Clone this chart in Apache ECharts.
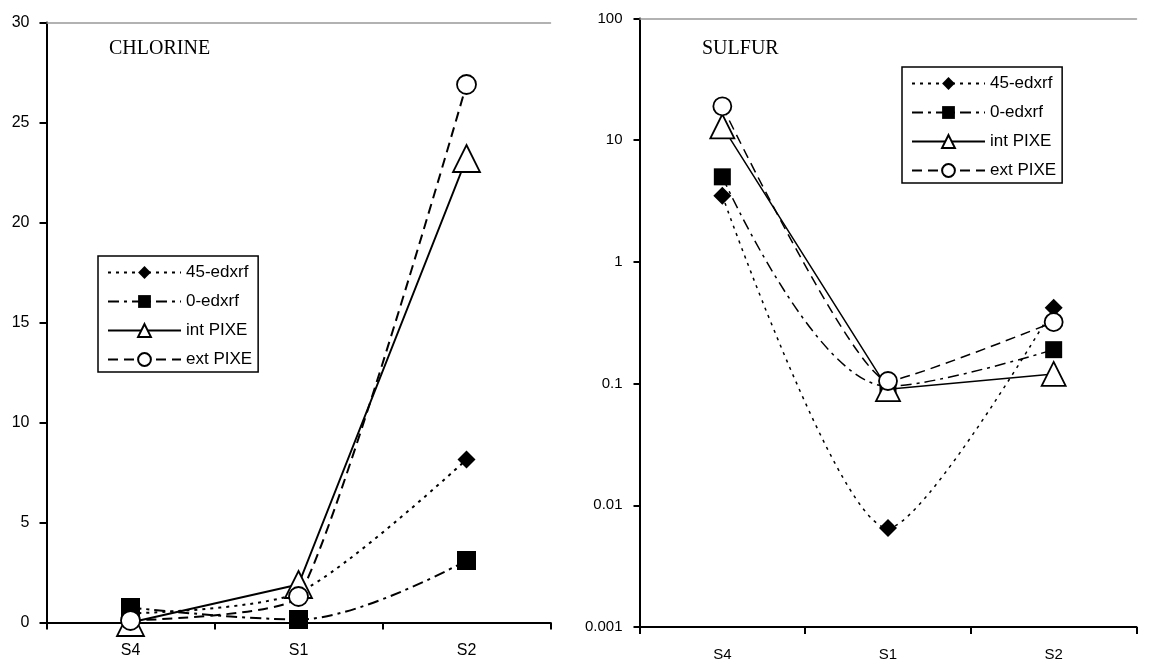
<!DOCTYPE html>
<html>
<head>
<meta charset="utf-8">
<script src="https://cdn.jsdelivr.net/npm/echarts@6/dist/echarts.min.js"></script>
<style>
html,body{margin:0;padding:0;background:#fff;}
#chart{width:1150px;height:662px;}
</style>
</head>
<body>
<div id="chart"></div>
<script>
// ---- data ----
const categories = ['S4', 'S1', 'S2'];
const seriesNames = ['45-edxrf', '0-edxrf', 'int PIXE', 'ext PIXE'];
// CHLORINE (linear)
const clEdxrf45 = [0.45, 1.5, 8.15];
const clEdxrf0 = [0.75, 0.15, 3.1];
const clIntPixe = [0.0, 1.9, 23.2];
const clExtPixe = [0.1, 1.3, 26.9];
// SULFUR (log)
const sEdxrf45 = [3.5, 0.0065, 0.42];
const sEdxrf0 = [5.0, 0.095, 0.19];
const sIntPixe = [13, 0.09, 0.12];
const sExtPixe = [19, 0.105, 0.32];
const chlorineTicks = ['0', '5', '10', '15', '20', '25', '30'];
const sulfurTicks = ['0.001', '0.01', '0.1', '1', '10', '100'];

const FONT = 'Liberation Sans, Arial, sans-serif';
const chart = echarts.init(document.getElementById('chart'));

const styles = [
  {symbol: 'diamond', fill: '#000', dash: [3, 5], smooth: 0.25},
  {symbol: 'rect', fill: '#000', dash: [11, 5, 3, 5], smooth: 0.35},
  {symbol: 'triangle', fill: '#fff', dash: 'solid', smooth: false},
  {symbol: 'circle', fill: '#fff', dash: [10, 6], smooth: 0.15}
];
const leftSizes = [18, 19, 27, 19];
const rightSizes = [18, 17, 24, 18];

function mkSeries(name, data, idx, gridIdx, size, lw) {
  const s = styles[idx];
  return {
    name: name,
    type: 'line',
    xAxisIndex: gridIdx === 0 ? 0 : 2,
    yAxisIndex: gridIdx,
    data: data,
    smooth: s.smooth,
    clip: false,
    symbol: s.symbol,
    symbolSize: size,
    showAllSymbol: true,
    lineStyle: {color: '#000', width: lw, type: s.dash},
    itemStyle: {color: s.fill, borderColor: '#000', borderWidth: s.fill === '#fff' ? 1.8 : 0, opacity: 1},
    emphasis: {disabled: true},
    animation: false
  };
}

const leftData = [clEdxrf45, clEdxrf0, clIntPixe, clExtPixe];
const rightData = [sEdxrf45, sEdxrf0, sIntPixe, sExtPixe];
const series = [];
seriesNames.forEach((n, i) => series.push(mkSeries(n, leftData[i], i, 0, leftSizes[i], 2)));
seriesNames.forEach((n, i) => series.push(mkSeries(n, rightData[i], i, 1, rightSizes[i], 1.5)));

function bottomAxis(gridIndex) {
  return {
    type: 'category', gridIndex: gridIndex, data: categories, position: 'bottom',
    boundaryGap: true,
    axisLine: {show: true, onZero: false, lineStyle: {color: '#000', width: 2}},
    axisTick: {show: true, inside: false, length: 7, lineStyle: {color: '#000', width: 2}},
    axisLabel: {color: '#000', fontFamily: FONT, fontSize: gridIndex === 0 ? 16 : 15, margin: 20},
    splitLine: {show: false}
  };
}
function topAxis(gridIndex) {
  return {
    type: 'category', gridIndex: gridIndex, data: categories, position: 'top',
    axisLine: {show: true, onZero: false, lineStyle: {color: '#999', width: 1.5}},
    axisTick: {show: false}, axisLabel: {show: false}, splitLine: {show: false}
  };
}

const legendCommon = {
  orient: 'vertical',
  data: seriesNames,
  borderColor: '#000', borderWidth: 1.5,
  padding: [8, 6, 4, 9],
  itemGap: 12, itemWidth: 73, itemHeight: 16,
  textStyle: {color: '#000', fontFamily: FONT, fontSize: 17, lineHeight: 15},
  selectedMode: false,
  backgroundColor: '#fff'
};

chart.setOption({
  animation: false,
  backgroundColor: '#fff',
  title: [
    {text: 'CHLORINE', left: 104, top: 34, textStyle: {fontFamily: 'Liberation Serif, Times New Roman, serif', fontWeight: 'normal', fontSize: 20, color: '#000'}},
    {text: 'SULFUR', left: 697, top: 34, textStyle: {fontFamily: 'Liberation Serif, Times New Roman, serif', fontWeight: 'normal', fontSize: 20, color: '#000'}}
  ],
  grid: [
    {left: 46.5, top: 22.5, width: 504, height: 600, containLabel: false},
    {left: 639.5, top: 18.5, width: 497, height: 610.5, containLabel: false}
  ],
  legend: [
    Object.assign({}, legendCommon, {left: 98, top: 256}),
    Object.assign({}, legendCommon, {left: 902, top: 67})
  ],
  xAxis: [bottomAxis(0), topAxis(0), bottomAxis(1), topAxis(1)],
  yAxis: [
    {
      type: 'value', gridIndex: 0, min: 0, max: 30, interval: 5,
      axisLine: {show: true, onZero: false, lineStyle: {color: '#000', width: 2}},
      axisTick: {show: true, length: 7, lineStyle: {color: '#000', width: 2}},
      axisLabel: {color: '#000', fontFamily: FONT, fontSize: 16, margin: 17,
        formatter: (v) => chlorineTicks[Math.round(v / 5)]},
      splitLine: {show: false}
    },
    {
      type: 'log', logBase: 10, gridIndex: 1, min: 0.001, max: 100, interval: 1,
      axisLine: {show: true, onZero: false, lineStyle: {color: '#000', width: 2}},
      axisTick: {show: true, length: 6, lineStyle: {color: '#000', width: 2}},
      axisLabel: {color: '#000', fontFamily: FONT, fontSize: 15, margin: 17,
        formatter: (v) => sulfurTicks[Math.round(Math.log10(v)) + 3]},
      minorTick: {show: false},
      splitLine: {show: false}
    }
  ],
  series: series
});
</script>
</body>
</html>
